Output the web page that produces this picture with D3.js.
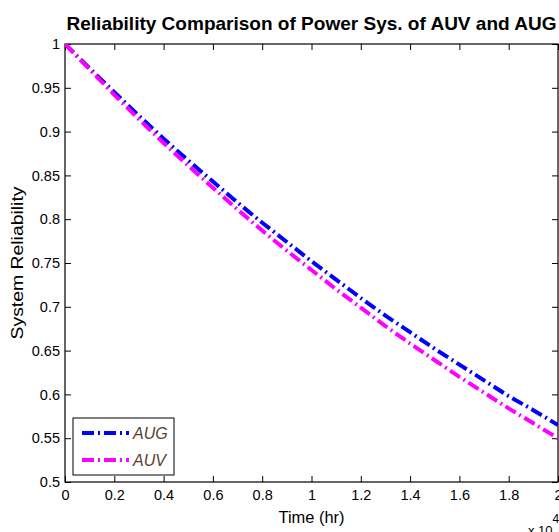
<!DOCTYPE html>
<html><head><meta charset="utf-8">
<script src="https://cdn.jsdelivr.net/npm/d3@7/dist/d3.min.js"></script>
<style>body{margin:0;background:#fff}svg{display:block}text{font-family:"Liberation Sans",Arial,sans-serif}</style>
</head><body><div id="c"></div>
<script>
const timeHr = [0,1000,2000,3000,4000,5000,6000,7000,8000,9000,10000,11000,12000,13000,14000,15000,16000,17000,18000,19000,20000];
const relAUG = [1.000,0.972,0.945,0.918,0.892,0.867,0.843,0.819,0.796,0.774,0.752,0.731,0.710,0.690,0.671,0.652,0.634,0.616,0.598,0.582,0.565];
const relAUV = [1.000,0.971,0.942,0.914,0.887,0.861,0.836,0.811,0.787,0.764,0.742,0.720,0.699,0.678,0.658,0.639,0.620,0.602,0.584,0.567,0.550];
const xTicks = [0,2000,4000,6000,8000,10000,12000,14000,16000,18000,20000];
const xTickLabels = ["0","0.2","0.4","0.6","0.8","1","1.2","1.4","1.6","1.8","2"];
const yTicks = [0.5,0.55,0.6,0.65,0.7,0.75,0.8,0.85,0.9,0.95,1];
const yTickLabels = ["0.5","0.55","0.6","0.65","0.7","0.75","0.8","0.85","0.9","0.95","1"];
const seriesNames = ["AUG","AUV"];
const seriesColors = ["#0000ff","#ff00ff"];

const W=559,H=532;
const L=65,R=558,T=44,B=482;
const svg=d3.select("#c").append("svg").attr("width",W).attr("height",H);
const x=d3.scaleLinear().domain([0,20000]).range([L,R]);
const y=d3.scaleLinear().domain([0.5,1]).range([B,T]);

svg.append("clipPath").attr("id","cl").append("rect").attr("x",L).attr("y",T).attr("width",R-L).attr("height",B-T);

svg.append("g").attr("transform",`translate(0,${B})`)
  .call(d3.axisBottom(x).tickValues(xTicks).tickFormat((d,i)=>xTickLabels[i]).tickSizeInner(-6).tickSizeOuter(0).tickPadding(8));
svg.append("g").attr("transform",`translate(0,${T})`)
  .call(d3.axisTop(x).tickValues(xTicks).tickFormat("").tickSizeInner(-6).tickSizeOuter(0));
svg.append("g").attr("transform",`translate(${L},0)`)
  .call(d3.axisLeft(y).tickValues(yTicks).tickFormat((d,i)=>yTickLabels[i]).tickSizeInner(-6).tickSizeOuter(0).tickPadding(5));
svg.append("g").attr("transform",`translate(${R},0)`)
  .call(d3.axisRight(y).tickValues(yTicks).tickFormat("").tickSizeInner(-6).tickSizeOuter(0));
svg.selectAll(".domain").remove();
svg.selectAll(".tick line").attr("stroke","#000").attr("stroke-width",1);
svg.selectAll(".tick text").attr("font-size","14.5px").attr("fill","#000").attr("font-family","Liberation Sans, Arial, sans-serif");
svg.append("rect").attr("x",L).attr("y",T).attr("width",R-L).attr("height",B-T).attr("fill","none").attr("stroke","#000").attr("stroke-width",1.2);

const line=d3.line().x((d,i)=>x(timeHr[i])).y(d=>y(d));
[relAUG,relAUV].forEach((s,k)=>{
  svg.append("path").datum(s).attr("d",line).attr("fill","none").attr("stroke",seriesColors[k])
    .attr("stroke-width",4).attr("stroke-dasharray","12,4,2,4").attr("clip-path","url(#cl)");
});

svg.append("text").attr("x",(L+R)/2).attr("y",30).attr("text-anchor","middle").attr("font-size","19px").attr("font-weight","bold")
  .attr("textLength",490).attr("lengthAdjust","spacingAndGlyphs").text("Reliability Comparison of Power Sys. of AUV and AUG");
svg.append("text").attr("x",(L+R)/2).attr("y",523).attr("text-anchor","middle").attr("font-size","16px")
  .attr("textLength",66).attr("lengthAdjust","spacingAndGlyphs").text("Time (hr)");
svg.append("text").attr("transform",`translate(23,${(T+B)/2}) rotate(-90)`).attr("text-anchor","middle").attr("font-size","16px")
  .attr("textLength",153).attr("lengthAdjust","spacingAndGlyphs").text("System Reliability");
const ex=svg.append("text").attr("x",528).attr("y",535).attr("font-size","13px");
ex.append("tspan").text("x 10");
ex.append("tspan").attr("dy",-12).attr("font-size","12px").text("4");

const lg=svg.append("g");
lg.append("rect").attr("x",73).attr("y",418).attr("width",101).attr("height",57).attr("fill","#fff").attr("stroke","#000").attr("stroke-width",1);
seriesNames.forEach((n,k)=>{
  const yy=433+k*27;
  lg.append("line").attr("x1",82).attr("x2",129).attr("y1",yy).attr("y2",yy).attr("stroke",seriesColors[k]).attr("stroke-width",4).attr("stroke-dasharray","12,4,2,4");
  lg.append("text").attr("x",133).attr("y",yy+6).attr("font-size","16px").attr("font-style","italic").attr("fill","#5a4030").text(n);
});
</script></body></html>
